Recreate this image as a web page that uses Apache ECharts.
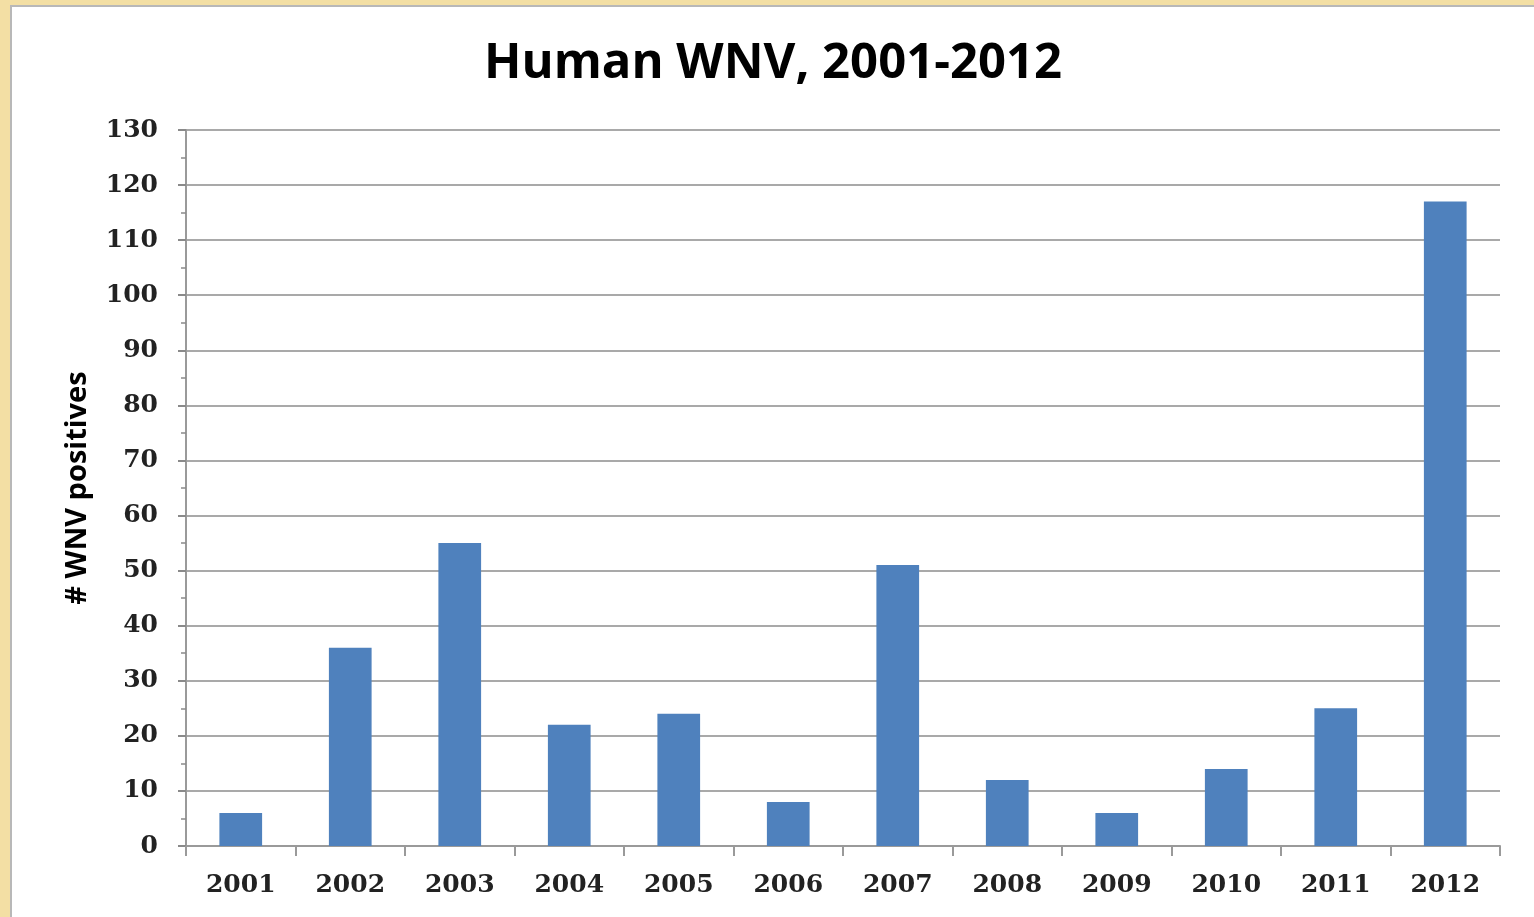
<!DOCTYPE html>
<html>
<head>
<meta charset="utf-8">
<script src="https://cdn.jsdelivr.net/npm/echarts@6/dist/echarts.min.js"></script>
<style>
  html, body { margin: 0; padding: 0; width: 1534px; height: 917px; overflow: hidden; }
  body { background: #f3dfa4; }
  #panel {
    position: absolute; left: 10px; top: 5px; right: 0; bottom: 0;
    background: #fff;
    border-left: 2px solid #b8b8b8;
    border-top: 2px solid #b8b8b8;
  }
  #main { position: absolute; left: 0; top: 0; width: 100%; height: 100%; }
</style>
</head>
<body>
<div id="panel"><div id="main"></div></div>
<script>
const years = ["2001", "2002", "2003", "2004", "2005", "2006", "2007", "2008", "2009", "2010", "2011", "2012"];
const positives = [6, 36, 55, 22, 24, 8, 51, 12, 6, 14, 25, 117];
const titleText = "Human WNV, 2001-2012";
const yName = "# WNV positives";

const labelFont = {
  fontFamily: "DejaVu Serif",
  fontWeight: "bold",
  fontSize: 25,
  color: "#222",
};

const chart = echarts.init(document.getElementById("main"));
chart.setOption({
  animation: false,
  title: {
    text: titleText,
    left: "center",
    top: 28,
    textStyle: {
      fontFamily: "Open Sans",
      fontWeight: "bold",
      fontSize: 49,
      color: "#000",
    },
  },
  grid: { left: 174, right: 34, top: 123, bottom: 71 },
  xAxis: {
    type: "category",
    data: years,
    axisLine: { lineStyle: { color: "#9a9a9a", width: 2 } },
    axisTick: { show: true, length: 10, lineStyle: { color: "#9a9a9a", width: 2 } },
    axisLabel: Object.assign({ margin: 27, interval: 0 }, labelFont),
  },
  yAxis: {
    type: "value",
    min: 0,
    max: 130,
    interval: 10,
    name: yName,
    nameLocation: "middle",
    nameRotate: 90,
    nameGap: 94,
    nameTextStyle: {
      fontFamily: "Open Sans",
      fontWeight: "bold",
      fontSize: 29,
      color: "#000",
    },
    axisLine: { show: true, lineStyle: { color: "#9a9a9a", width: 2 } },
    axisTick: { show: true, length: 8, lineStyle: { color: "#8a8a8a", width: 2 } },
    minorTick: { show: true, splitNumber: 2, length: 5, lineStyle: { color: "#8a8a8a", width: 1.5 } },
    splitLine: { show: true, lineStyle: { color: "#8c8c8c", width: 1.5 } },
    axisLabel: Object.assign({ margin: 28 }, labelFont),
  },
  series: [
    {
      type: "bar",
      data: positives,
      barWidth: "39%",
      itemStyle: { color: "#4f81bd" },
    },
  ],
});
</script>
</body>
</html>
